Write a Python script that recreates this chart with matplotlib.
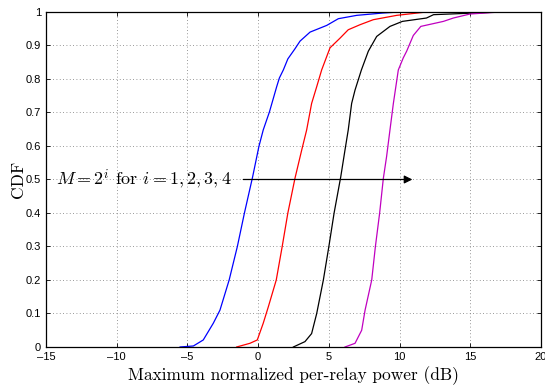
import numpy as np
import matplotlib.pyplot as plt

plt.rcParams['mathtext.fontset'] = 'cm'
plt.rcParams['axes.unicode_minus'] = False
plt.rcParams['font.family'] = ['Liberation Sans', 'DejaVu Sans']

# CDF levels and power (dB), M = 2, 4, 8, 16
cdf_m2 = [0, 0.003, 0.021, 0.071, 0.11, 0.2, 0.3, 0.4, 0.508, 0.598, 0.648, 0.702, 0.777, 0.803, 0.827, 0.86, 0.89, 0.913, 0.94, 0.96, 0.98, 0.99, 0.997, 1.0]
pow_m2 = [-5.52, -4.58, -3.88, -3.17, -2.7, -2.05, -1.47, -0.97, -0.39, 0.05, 0.36, 0.8, 1.31, 1.5, 1.78, 2.1, 2.6, 2.96, 3.67, 4.85, 5.67, 6.97, 8.83, 10.0]

cdf_m4 = [0, 0.011, 0.021, 0.071, 0.12, 0.2, 0.3, 0.4, 0.503, 0.588, 0.648, 0.727, 0.777, 0.827, 0.893, 0.922, 0.947, 0.962, 0.977, 0.99, 1.0]
pow_m4 = [-1.52, -0.58, -0.06, 0.36, 0.72, 1.28, 1.7, 2.1, 2.6, 3.08, 3.43, 3.78, 4.14, 4.49, 5.08, 5.79, 6.37, 7.2, 8.14, 9.8, 11.9]

cdf_m8 = [0, 0.016, 0.04, 0.1, 0.2, 0.3, 0.4, 0.508, 0.588, 0.648, 0.727, 0.767, 0.827, 0.883, 0.927, 0.957, 0.972, 0.982, 0.992, 0.996, 1.0]
pow_m8 = [2.49, 3.31, 3.78, 4.14, 4.61, 5.0, 5.37, 5.84, 6.14, 6.37, 6.61, 6.85, 7.3, 7.79, 8.38, 9.32, 10.2, 11.9, 12.4, 14.75, 17.1]

cdf_m16 = [0, 0.011, 0.05, 0.11, 0.2, 0.3, 0.4, 0.503, 0.568, 0.648, 0.727, 0.827, 0.863, 0.883, 0.93, 0.957, 0.972, 0.982, 0.994, 1.0]
pow_m16 = [6.14, 6.85, 7.32, 7.56, 8.03, 8.29, 8.59, 8.85, 9.08, 9.32, 9.56, 9.91, 10.26, 10.5, 10.97, 11.5, 13.1, 13.8, 14.98, 17.1]

series = [(pow_m2, cdf_m2, 'blue'), (pow_m4, cdf_m4, 'red'),
          (pow_m8, cdf_m8, 'black'), (pow_m16, cdf_m16, '#c000c0')]

fig = plt.figure(figsize=(5.45, 3.87), dpi=100)
ax = fig.add_axes([0.0844, 0.1034, 0.9083, 0.8656])

for p, c, col in series:
    # curve stays at 1 up to the right edge
    ax.plot(list(p) + [20], list(c) + [1], color=col, lw=0.9)

ax.set_xlim(-15, 20)
ax.set_ylim(0, 1)
ax.set_xticks(np.arange(-15, 21, 5))
ax.set_xticklabels(['\u201315', '\u201310', '\u20135', '0', '5', '10', '15', '20'])
ax.set_yticks(np.arange(0, 1.01, 0.1))
ax.set_yticklabels(['0', '0.1', '0.2', '0.3', '0.4', '0.5', '0.6', '0.7', '0.8', '0.9', '1'])
ax.tick_params(direction='in', top=True, right=True, labelsize=8, length=3, width=0.6)
ax.grid(True, linestyle=(0, (1, 3)), color='#777777', lw=0.6)
for s in ax.spines.values():
    s.set_linewidth(0.9)

ax.set_xlabel('Maximum normalized per-relay power (dB)', family='cmr10', fontsize=12.5, labelpad=3)
ax.set_ylabel('CDF', family='cmr10', fontsize=12.5, labelpad=0)

ax.annotate('', xy=(11.1, 0.5), xytext=(-1.25, 0.5),
            arrowprops=dict(arrowstyle='-|>', color='black', lw=0.9, mutation_scale=12))
ax.text(-14.3, 0.5, r'$M=2^i$ for $i=1,2,3,4$', family='cmr10', fontsize=13, va='center', ha='left')

fig.savefig('out.png')
